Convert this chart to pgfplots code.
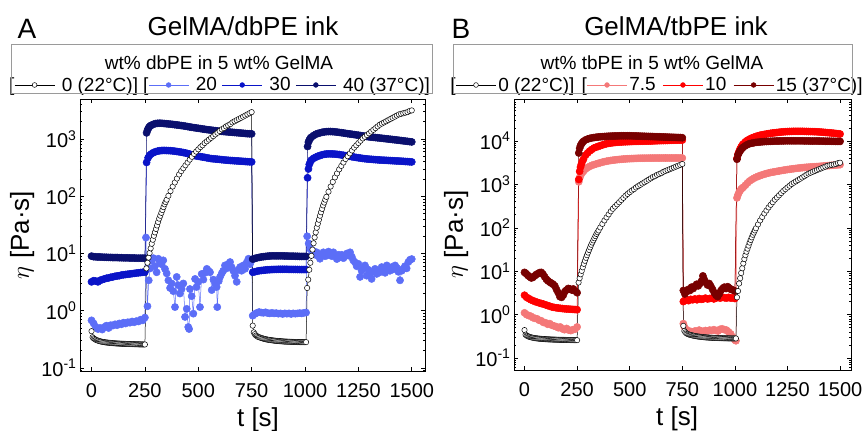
\documentclass[border=0pt]{standalone}
\usepackage{fontspec}
\setmainfont{Liberation Sans}
\usepackage{pgfplots}
\usepackage{pgfplotstable}
\pgfplotsset{compat=1.18}

\definecolor{dbA}{HTML}{5C6EF7}
\definecolor{dbB}{HTML}{0A14C8}
\definecolor{dbC}{HTML}{0A0F6E}
\definecolor{tbA}{HTML}{F47878}
\definecolor{tbB}{HTML}{FF0000}
\definecolor{tbC}{HTML}{780000}
\definecolor{boxgray}{HTML}{9A9A9A}

% 0 wt% control (22 C), same curve in both panels
\pgfplotstableread{
t eta
0 0.44
5 0.345
10 0.33
15 0.32
20 0.312
25 0.306
30 0.301
35 0.297
40 0.293
45 0.29
50 0.287
55 0.285
60 0.283
65 0.281
70 0.279
75 0.278
80 0.276
85 0.275
90 0.274
95 0.273
100 0.272
105 0.271
110 0.27
115 0.269
120 0.268
125 0.268
130 0.267
135 0.266
140 0.266
145 0.265
150 0.265
155 0.264
160 0.264
165 0.263
170 0.263
175 0.262
180 0.262
185 0.262
190 0.261
195 0.261
200 0.261
205 0.26
210 0.26
215 0.26
220 0.259
225 0.259
230 0.259
235 0.258
240 0.258
245 0.258
250 0.258
257 5.5
262 6.9
267 8.5
272 10.2
277 12.3
282 14.8
287 17.4
292 20.4
297 23.4
302 26.9
307 30.9
312 35.5
317 40.7
322 45.7
327 51.3
332 57.5
337 64.6
342 72.4
347 79.4
352 87.1
360 102
370 123
380 148
390 174
400 204
410 240
420 275
430 309
440 347
450 389
460 437
470 490
480 550
490 603
500 661
510 724
520 776
530 851
540 912
550 977
560 1047
570 1122
580 1202
590 1288
600 1380
610 1479
620 1549
630 1660
640 1738
650 1820
660 1950
670 2042
680 2138
690 2239
700 2344
710 2455
720 2570
730 2692
740 2818
750 2951
755 0.55
760 0.42
765 0.39
770 0.37
775 0.36
780 0.35
785 0.345
790 0.34
795 0.335
800 0.33
805 0.326
810 0.322
815 0.319
820 0.316
825 0.313
830 0.311
835 0.309
840 0.307
845 0.305
850 0.303
855 0.301
860 0.3
865 0.298
870 0.297
875 0.296
880 0.295
885 0.294
890 0.293
895 0.292
900 0.291
905 0.29
910 0.289
915 0.289
920 0.288
925 0.288
930 0.287
935 0.287
940 0.286
945 0.286
950 0.285
955 0.285
960 0.285
965 0.284
970 0.284
975 0.284
980 0.283
985 0.283
990 0.283
995 0.283
1000 0.283
1005 0.283
1010 2.5
1015 3.5
1020 5.2
1025 6.9
1030 9.1
1035 11.7
1040 15.1
1045 19.1
1050 23.4
1055 28.2
1060 33.1
1065 38.9
1070 45.7
1075 52.5
1080 60.3
1085 69.2
1090 77.6
1095 87.1
1100 97.7
1110 120
1120 148
1130 178
1140 214
1150 251
1160 295
1170 339
1180 389
1190 447
1200 501
1210 562
1220 631
1230 708
1240 776
1250 851
1260 933
1270 1023
1280 1096
1290 1175
1300 1259
1310 1349
1320 1445
1330 1549
1340 1660
1350 1778
1360 1862
1370 1950
1380 2042
1390 2138
1400 2239
1410 2344
1420 2455
1430 2570
1440 2692
1450 2754
1460 2818
1470 2884
1480 2951
1490 3090
1500 3162
}\zerodata

% 20 wt% dbPE
\pgfplotstableread{
t eta
0 0.68
10 0.60
20 0.52
30 0.48
40 0.50
50 0.47
60 0.52
70 0.55
80 0.50
90 0.56
100 0.55
110 0.58
120 0.56
130 0.60
140 0.58
150 0.62
160 0.60
170 0.63
180 0.62
190 0.65
200 0.63
210 0.66
220 0.65
230 0.70
240 0.68
250 0.76
255 19
262 1.2
268 3.4
275 5.5
282 7.5
290 8.3
297 6.0
305 4.7
313 8.1
320 7.0
328 6.5
336 7.6
344 5.4
352 4.5
360 3.4
368 2.5
375 3.0
383 2.2
391 1.16
399 3.9
406 2.8
414 2.0
422 2.4
430 3.0
438 0.78
446 1.08
453 0.52
457 0.48
461 2.4
469 1.8
477 0.89
485 3.6
492 2.6
500 3.2
508 1.16
516 4.4
524 3.5
532 4.6
540 5.4
548 5.0
555 4.7
563 2.3
571 3.5
579 3.0
586 2.6
589 1.16
596 3.3
602 3.9
610 4.5
617 5.0
625 6.2
633 5.5
641 6.6
649 7.1
656 5.8
664 5.0
672 4.1
680 3.2
688 5.2
696 5.8
703 5.0
711 6.2
719 5.4
727 7.0
735 8.1
742 6.5
750 7.6
755 0.82
765 0.88
775 0.92
785 0.95
795 0.93
805 0.92
815 0.94
825 0.91
835 0.90
845 0.92
855 0.90
865 0.91
875 0.89
885 0.90
895 0.88
905 0.90
915 0.89
925 0.90
935 0.88
945 0.90
955 0.89
965 0.90
975 0.91
985 0.90
995 0.92
1005 0.93
1010 20
1017 15
1025 12
1033 10
1040 11
1048 9.5
1055 10.5
1063 9.0
1070 8.1
1078 9.5
1086 10.5
1094 9.0
1102 9.2
1110 10.8
1118 9.8
1125 9.0
1133 10.5
1141 9.2
1149 8.0
1157 9.5
1164 8.6
1172 9.5
1180 8.3
1188 9.0
1196 10.0
1204 9.2
1211 10.5
1219 8.8
1226 7.6
1234 7.0
1242 6.0
1250 6.6
1258 3.9
1265 5.0
1273 5.5
1281 6.2
1289 4.1
1297 5.2
1304 4.5
1312 3.6
1320 4.8
1328 5.4
1336 4.4
1344 5.0
1351 4.7
1359 5.8
1367 5.2
1375 4.6
1383 6.2
1390 5.4
1398 5.0
1406 5.8
1414 5.3
1422 6.2
1430 5.6
1437 4.8
1445 3.4
1453 5.0
1460 5.4
1468 6.0
1476 5.5
1484 7.1
1492 7.8
1500 8.0
}\dbAdata

% 30 wt% dbPE
\pgfplotstableread{
t eta
0 3.2
10 3.35
20 3.3
30 3.2
40 3.4
50 3.5
60 3.6
70 3.7
80 3.75
90 3.85
100 3.9
110 4.0
120 4.05
130 4.1
140 4.2
150 4.25
160 4.3
170 4.35
180 4.4
190 4.45
200 4.5
210 4.55
220 4.6
230 4.65
240 4.7
250 4.75
258 390
265 470
272 520
280 550
290 580
300 600
310 615
320 625
330 630
340 632
350 630
360 628
370 625
380 620
390 613
400 605
410 598
420 590
430 580
440 570
450 558
460 545
470 530
480 515
490 507
500 500
510 492
520 485
530 478
540 470
550 462
560 455
570 451
580 448
590 444
600 440
610 436
620 432
630 428
640 425
650 422
660 420
670 417
680 415
690 412
700 410
710 407
720 405
730 402
740 400
750 398
755 4.7
765 4.8
775 4.9
785 5.0
795 5.05
805 5.1
815 5.15
825 5.2
835 5.22
845 5.25
855 5.27
865 5.28
875 5.3
885 5.3
895 5.3
905 5.3
915 5.3
925 5.28
935 5.28
945 5.27
955 5.27
965 5.26
975 5.25
985 5.25
995 5.25
1005 5.25
1012 210
1016 300
1020 360
1025 400
1030 430
1040 460
1050 480
1060 500
1070 515
1080 530
1090 540
1100 548
1110 550
1120 550
1130 548
1140 545
1150 540
1160 535
1170 528
1180 520
1190 512
1200 505
1210 498
1220 490
1230 483
1240 476
1250 470
1260 464
1270 458
1280 453
1290 449
1300 445
1310 442
1320 439
1330 436
1340 433
1350 430
1360 428
1370 426
1380 424
1390 422
1400 420
1410 418
1420 416
1430 414
1440 412
1450 410
1460 408
1470 405
1480 403
1490 400
1500 398
}\dbBdata

% 40 wt% dbPE (37 C)
\pgfplotstableread{
t eta
0 9.0
10 8.8
20 8.75
30 8.7
40 8.7
50 8.65
60 8.6
70 8.6
80 8.55
90 8.55
100 8.5
110 8.5
120 8.5
130 8.45
140 8.45
150 8.4
160 8.4
170 8.4
180 8.35
190 8.35
200 8.35
210 8.3
220 8.3
230 8.3
240 8.3
250 8.3
258 1280
262 1420
266 1530
270 1620
275 1690
280 1740
290 1810
300 1860
310 1880
320 1890
330 1880
340 1865
350 1850
360 1835
370 1820
380 1800
390 1780
400 1760
410 1740
420 1720
430 1700
440 1675
450 1650
460 1625
470 1600
480 1580
490 1560
500 1540
510 1520
520 1500
530 1480
540 1460
550 1445
560 1430
570 1415
580 1400
590 1385
600 1370
610 1360
620 1350
630 1340
640 1330
650 1320
660 1310
670 1300
680 1290
690 1280
700 1270
710 1260
720 1250
730 1240
740 1235
750 1230
755 8.0
765 8.2
775 8.4
785 8.55
795 8.7
805 8.8
815 8.9
825 9.0
835 9.05
845 9.1
855 9.1
865 9.1
875 9.1
885 9.1
895 9.1
905 9.05
915 9.05
925 9.0
935 9.0
945 9.0
955 8.95
965 8.95
975 8.9
985 8.9
995 8.9
1005 8.9
1012 740
1016 880
1020 960
1025 1030
1030 1080
1040 1150
1050 1210
1060 1250
1070 1280
1080 1310
1090 1330
1100 1345
1110 1350
1120 1350
1130 1345
1140 1335
1150 1320
1160 1305
1170 1290
1180 1275
1190 1255
1200 1240
1210 1225
1220 1210
1230 1195
1240 1180
1250 1165
1260 1150
1270 1135
1280 1120
1290 1105
1300 1090
1310 1080
1320 1070
1330 1060
1340 1050
1350 1040
1360 1030
1370 1020
1380 1010
1390 1000
1400 990
1410 980
1420 970
1430 960
1440 950
1450 940
1460 930
1470 920
1480 910
1490 900
1500 890
}\dbCdata

% 7.5 wt% tbPE
\pgfplotstableread{
t eta
0 1.1
10 1.0
20 0.95
30 0.92
40 0.85
50 0.82
60 0.80
70 0.74
80 0.72
90 0.66
100 0.65
110 0.60
120 0.62
130 0.57
140 0.55
150 0.53
160 0.50
170 0.52
180 0.47
190 0.45
200 0.48
210 0.44
220 0.43
230 0.45
240 0.46
250 0.52
258 1150
262 1400
266 1600
270 1750
275 1900
280 2000
290 2250
300 2450
310 2600
320 2750
330 2850
340 2950
350 3050
360 3150
370 3250
380 3350
390 3420
400 3500
410 3560
420 3620
430 3670
440 3720
450 3760
460 3800
470 3840
480 3870
490 3900
500 3920
510 3940
520 3960
530 3980
540 4000
550 4010
560 4020
570 4025
580 4030
590 4035
600 4040
610 4045
620 4050
630 4050
640 4050
650 4055
660 4060
670 4060
680 4060
690 4060
700 4060
710 4060
720 4060
730 4060
740 4060
750 4060
755 0.62
760 0.52
770 0.45
780 0.42
790 0.41
800 0.40
810 0.42
820 0.41
830 0.44
840 0.42
850 0.41
860 0.43
870 0.42
880 0.44
890 0.43
900 0.45
910 0.43
920 0.42
930 0.46
940 0.47
950 0.45
960 0.44
970 0.40
980 0.36
990 0.30
1000 0.26
1005 0.25
1010 490
1015 580
1020 660
1025 720
1030 780
1035 820
1040 860
1050 960
1060 1080
1070 1200
1080 1290
1090 1380
1100 1460
1110 1530
1120 1600
1130 1660
1140 1720
1150 1780
1160 1830
1170 1880
1180 1920
1190 1960
1200 2000
1210 2040
1220 2080
1230 2120
1240 2160
1250 2200
1260 2230
1270 2270
1280 2300
1290 2340
1300 2370
1310 2400
1320 2430
1330 2455
1340 2480
1350 2500
1360 2520
1370 2540
1380 2560
1390 2580
1400 2600
1410 2625
1420 2650
1430 2675
1440 2700
1450 2725
1460 2750
1470 2775
1480 2800
1490 2825
1500 2850
}\tbAdata

% 10 wt% tbPE
\pgfplotstableread{
t eta
0 2.8
10 2.5
20 2.35
30 2.2
40 2.1
50 2.0
60 1.93
70 1.86
80 1.8
90 1.75
100 1.68
110 1.62
120 1.56
130 1.5
140 1.47
150 1.44
160 1.42
170 1.4
180 1.38
190 1.36
200 1.35
210 1.34
220 1.33
230 1.32
240 1.31
250 1.3
258 1300
262 2000
266 2500
270 2900
275 3400
280 3800
290 4700
300 5300
310 5900
320 6400
330 6900
340 7200
350 7500
360 7800
370 8100
380 8400
390 8650
400 8850
410 9000
420 9150
430 9250
440 9350
450 9430
460 9500
470 9550
480 9600
490 9650
500 9700
510 9750
520 9800
530 9820
540 9850
550 9880
560 9900
570 9930
580 9950
590 9980
600 10000
610 10050
620 10100
630 10150
640 10200
650 10220
660 10250
670 10280
680 10300
690 10350
700 10400
710 10420
720 10450
730 10480
740 10500
750 10500
755 2.0
760 2.1
770 2.2
780 2.1
790 2.25
800 2.2
810 2.3
820 2.2
830 2.35
840 2.25
850 2.3
860 2.4
870 2.3
880 2.35
890 2.4
900 2.3
910 2.4
920 2.5
930 2.4
940 2.5
950 2.45
960 2.4
970 2.5
980 2.4
990 2.45
1000 2.35
1010 4000
1015 5000
1020 5800
1025 6600
1030 7300
1035 8000
1040 8600
1050 9600
1060 10400
1070 11100
1080 11700
1090 12200
1100 12700
1110 13200
1120 13600
1130 13900
1140 14200
1150 14500
1160 14800
1170 15050
1180 15300
1190 15500
1200 15700
1210 15900
1220 16100
1230 16250
1240 16400
1250 16500
1260 16600
1270 16650
1280 16700
1290 16700
1300 16700
1310 16700
1320 16700
1330 16650
1340 16600
1350 16550
1360 16500
1370 16450
1380 16400
1390 16300
1400 16200
1410 16050
1420 15900
1430 15750
1440 15600
1450 15450
1460 15300
1470 15100
1480 14900
1490 14700
1500 14500
}\tbBdata

% 15 wt% tbPE (37 C)
\pgfplotstableread{
t eta
0 9.4
8 8.8
16 8.0
24 7.5
32 7.0
40 7.2
48 7.8
56 8.4
64 8.8
72 9.3
80 9.4
88 8.5
96 7.4
104 6.5
112 6.0
120 5.6
128 5.3
136 5.0
144 4.6
152 3.8
160 3.2
168 2.6
176 2.5
184 2.8
192 3.4
200 3.7
208 4.0
216 3.9
224 3.7
232 3.9
240 3.5
250 3.2
258 5300
262 6800
266 7800
270 8500
275 9200
280 9800
290 10600
300 11100
310 11500
320 11800
330 12000
340 12200
350 12350
360 12500
370 12600
380 12700
390 12800
400 12900
410 12950
420 13000
430 13050
440 13100
450 13150
460 13200
470 13200
480 13200
490 13200
500 13200
510 13150
520 13100
530 13050
540 13000
550 12950
560 12900
570 12850
580 12800
590 12750
600 12700
610 12650
620 12600
630 12550
640 12500
650 12450
660 12400
670 12350
680 12300
690 12250
700 12200
710 12150
720 12100
730 12050
740 12000
750 11900
755 3.6
762 3.0
770 3.4
778 3.8
786 3.6
794 4.3
802 4.0
810 4.5
818 5.0
826 4.6
834 5.2
842 6.0
848 7.8
854 6.5
862 5.5
870 4.8
878 5.2
886 4.5
894 3.8
902 3.2
910 2.8
918 2.6
926 3.0
934 3.6
942 4.0
950 4.3
958 4.0
966 4.4
974 4.1
982 3.8
990 3.7
1000 3.5
1010 3800
1015 4800
1020 5400
1025 5950
1030 6400
1035 6850
1040 7200
1050 7800
1060 8300
1070 8700
1080 8900
1090 9100
1100 9300
1110 9400
1120 9500
1130 9600
1140 9700
1150 9750
1160 9800
1170 9850
1180 9900
1190 9950
1200 10000
1210 10000
1220 10050
1230 10050
1240 10100
1250 10100
1260 10100
1270 10100
1280 10100
1290 10100
1300 10100
1310 10100
1320 10100
1330 10050
1340 10050
1350 10050
1360 10000
1370 10000
1380 10000
1390 10000
1400 10000
1410 9950
1420 9950
1430 9900
1440 9900
1450 9900
1460 9850
1470 9850
1480 9800
1490 9800
1500 9800
}\tbCdata

\pgfplotsset{
  myPts/.style={color=#1, line width=0.5pt, mark=*, mark size=3.6pt},
  myZero/.style={black, line width=0.5pt, mark=*, mark size=2.7pt,
    mark options={fill=white, draw=black, line width=0.5pt}},
  myLine/.style={legend image code/.code={%
    \draw[mark repeat=2,mark phase=2,##1,mark size=2.4pt]
      plot coordinates {(0pt,0pt) (20pt,0pt) (40pt,0pt)};}},
  myBrack/.style={legend image code/.code={%
    \node[anchor=east,inner sep=0pt,text=black] at (0pt,0pt) {[};
    \draw[mark repeat=2,mark phase=2,##1,mark size=2.4pt]
      plot coordinates {(0pt,0pt) (20pt,0pt) (40pt,0pt)};}},
}

\begin{document}
\begin{tikzpicture}
\path[use as bounding box] (0pt,0pt) rectangle (865pt,431pt);

\begin{axis}[
  scale only axis, ymode=log, log basis y=10,
  at={(80pt,60pt)}, anchor=south west, width=345pt, height=272pt,
  xmin=-54, xmax=1562, ymin=0.0887, ymax=5000,
  xtick={0,250,...,1500},
  ytick={0.1,1,10,100,1000},
  minor ytick={0.09,0.2,0.3,0.4,0.5,0.6,0.7,0.8,0.9,2,3,4,5,6,7,8,9,20,30,40,50,60,70,80,90,200,300,400,500,600,700,800,900,2000,3000,4000,5000},
  tick align=inside,
  major tick length=4pt, minor tick length=2pt,
  axis line style={line width=0.8pt},
  tick style={black, line width=0.6pt},
  /pgf/number format/assume math mode=true,
  /pgf/number format/1000 sep={},
  ticklabel style={font=\fontsize{20}{22}\selectfont},
  xticklabel style={yshift=-9pt},
  yticklabel={\pgfmathtruncatemacro\myexp{round(\tick)}10\textsuperscript{\myexp}},
  xlabel={t [s]}, ylabel={$\eta$ [Pa·s]},
  label style={font=\fontsize{26}{28}\selectfont},
  xlabel style={at={(axis description cs:0.516,-0.18)}, anchor=center},
  ylabel style={at={(axis description cs:-0.168,0.5)}, anchor=center},
  legend columns=4,
  legend style={draw=none, fill=none, anchor=center, at={(0.4072,1.0515)},
    font=\fontsize{19}{21}\selectfont,
    /tikz/every odd column/.append style={column sep=5pt},
    /tikz/every even column/.append style={column sep=3pt}},
]
\addplot[myPts=dbA, forget plot] table[x=t, y=eta] {\dbAdata};
\addplot[myPts=dbB, forget plot] table[x=t, y=eta] {\dbBdata};
\addplot[myPts=dbC, forget plot] table[x=t, y=eta] {\dbCdata};
\addplot[myZero, forget plot] table[x=t, y=eta] {\zerodata};
\addlegendimage{myZero, myBrack}
\addlegendentry{0 (22°C)]}
\addlegendimage{myPts=dbA, myBrack}
\addlegendentry{20}
\addlegendimage{myPts=dbB, myLine}
\addlegendentry{30}
\addlegendimage{myPts=dbC, myLine}
\addlegendentry{40 (37°C)]}
\end{axis}

\begin{axis}[
  scale only axis, ymode=log, log basis y=10,
  at={(514pt,61pt)}, anchor=south west, width=337pt, height=271pt,
  xmin=-50, xmax=1552, ymin=0.053, ymax=92900,
  xtick={0,250,...,1500},
  ytick={0.1,1,10,100,1000,10000},
  minor ytick={0.06,0.07,0.08,0.09,0.2,0.3,0.4,0.5,0.6,0.7,0.8,0.9,2,3,4,5,6,7,8,9,20,30,40,50,60,70,80,90,200,300,400,500,600,700,800,900,2000,3000,4000,5000,6000,7000,8000,9000,20000,30000,40000,50000,60000,70000,80000,90000},
  tick align=inside,
  major tick length=4pt, minor tick length=2pt,
  axis line style={line width=0.8pt},
  tick style={black, line width=0.6pt},
  /pgf/number format/assume math mode=true,
  /pgf/number format/1000 sep={},
  ticklabel style={font=\fontsize{20}{22}\selectfont},
  xticklabel style={yshift=-9pt},
  yticklabel={\pgfmathtruncatemacro\myexp{round(\tick)}10\textsuperscript{\myexp}},
  xlabel={t [s]}, ylabel={$\eta$ [Pa·s]},
  label style={font=\fontsize{26}{28}\selectfont},
  xlabel style={at={(axis description cs:0.484,-0.18)}, anchor=center},
  ylabel style={at={(axis description cs:-0.172,0.5)}, anchor=center},
  legend columns=4,
  legend style={draw=none, fill=none, anchor=center, at={(0.426,1.0517)},
    font=\fontsize{19}{21}\selectfont,
    /tikz/every odd column/.append style={column sep=0pt},
    /tikz/every even column/.append style={column sep=5pt}},
]
\addplot[myPts=tbA, forget plot] table[x=t, y=eta] {\tbAdata};
\addplot[myPts=tbB, forget plot] table[x=t, y=eta] {\tbBdata};
\addplot[myPts=tbC, forget plot] table[x=t, y=eta] {\tbCdata};
\addplot[myZero, forget plot] table[x=t, y=eta] {\zerodata};
\addlegendimage{myZero, myBrack}
\addlegendentry{0 (22°C)]}
\addlegendimage{myPts=tbA, myBrack}
\addlegendentry{7.5}
\addlegendimage{myPts=tbB, myLine}
\addlegendentry{10}
\addlegendimage{myPts=tbC, myLine}
\addlegendentry{15 (37°C)]}
\end{axis}

% panel letters, titles and legend frames
\node[font=\fontsize{28}{30}\selectfont] at (27pt,402pt) {A};
\node[font=\fontsize{26}{28}\selectfont] at (243pt,405pt) {GelMA/dbPE ink};
\draw[boxgray, line width=0.8pt] (11pt,338pt) rectangle (432pt,387pt);
\node[font=\fontsize{19}{21}\selectfont] at (219pt,368pt) {wt\% dbPE in 5 wt\% GelMA};

\node[font=\fontsize{28}{30}\selectfont] at (461pt,402pt) {B};
\node[font=\fontsize{26}{28}\selectfont] at (676pt,405pt) {GelMA/tbPE ink};
\draw[boxgray, line width=0.8pt] (453pt,338pt) rectangle (852pt,387pt);
\node[font=\fontsize{19}{21}\selectfont] at (652pt,368pt) {wt\% tbPE in 5 wt\% GelMA};
\end{tikzpicture}
\end{document}
